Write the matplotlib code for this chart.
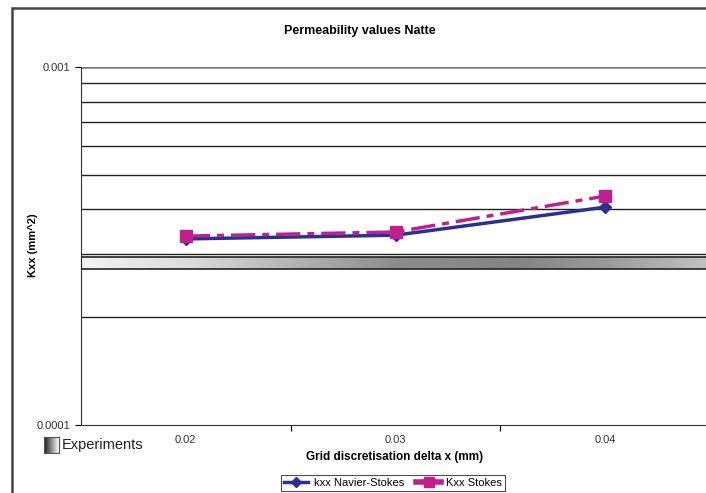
import numpy as np
import matplotlib
matplotlib.use('Agg')
import matplotlib.pyplot as plt
from matplotlib.patches import Rectangle
from matplotlib.lines import Line2D

plt.rcParams['font.family'] = ['Liberation Sans', 'DejaVu Sans']

# data
categories = ['0.02', '0.03', '0.04']
kxx_navier_stokes = [0.000331, 0.000339, 0.000406]
kxx_stokes = [0.000337, 0.000346, 0.000436]
exp_low, exp_high = 0.000273, 0.000295
y_ticks = [0.0001, 0.001]
y_tick_labels = ['0.0001', '0.001']

# gradient of the experiments band (position along x, grey level)
grad_pos = [0.0, 0.17, 0.5, 0.7, 0.83, 1.0]
grad_grey = [0.95, 0.86, 0.55, 0.52, 0.60, 0.76]

navy = '#2B3192'
magenta = '#C0208E'

fig = plt.figure(figsize=(7.06, 4.93), dpi=100)
ax = fig.add_axes([81 / 706, 68 / 493, 629 / 706, 358 / 493])

x = np.arange(len(categories))
ax.set_yscale('log')

# horizontal grid lines at every minor step
for v in np.arange(2, 10) * 1e-4:
    ax.axhline(v, color='#222222', lw=1.0, zorder=1)
ax.axhline(0.001, color='#777777', lw=1.8, zorder=1)

# experiments band
xs = np.linspace(0, 1, 400)
band = np.interp(xs, grad_pos, grad_grey)
ax.imshow(np.tile(band, (2, 1)), cmap='gray', vmin=0, vmax=1, aspect='auto',
          extent=(-0.5, 2.5, exp_low, exp_high), zorder=2, interpolation='bilinear')
ax.add_patch(Rectangle((-0.5, exp_low), 3, exp_high - exp_low, fill=False,
                       ec='#222222', lw=1.2, zorder=3))
ax.set_xlim(-0.5, 2.5)
ax.set_ylim(0.0001, 0.001)

ax.plot(x, kxx_navier_stokes, color=navy, lw=2.5, marker='D', ms=6, zorder=4)
ax.plot(x, kxx_stokes, color=magenta, lw=2.5, dashes=(7, 2, 2, 2), marker='s',
        ms=8, zorder=5)

for s in ['top', 'right']:
    ax.spines[s].set_visible(False)
ax.spines['left'].set_color('#333333')
ax.spines['bottom'].set_color('#333333')

ax.set_yticks(y_ticks, y_tick_labels)
ax.yaxis.set_minor_locator(matplotlib.ticker.NullLocator())
ax.tick_params(axis='y', length=4, width=0.8, labelsize=8, labelcolor='#333333')
ax.set_xticks([0.5, 1.5], ['', ''])
ax.set_xticks(x, categories, minor=True)
ax.tick_params(axis='x', which='major', length=4, width=0.8)
ax.tick_params(axis='x', which='minor', length=0, labelsize=8, pad=7,
               labelcolor='#333333')

fig.text(0.51, 0.938, 'Permeability values Natte', ha='center', va='center',
         fontsize=9, fontweight='bold', family=['Liberation Sans Narrow', 'Liberation Sans'])
fig.text(33 / 706, 1 - 245 / 493, 'Kxx (mm^2)', rotation=90, ha='center', va='center',
         fontsize=8, fontweight='bold', family=['Liberation Sans Narrow', 'Liberation Sans'])
fig.text(395 / 706, 1 - 457 / 493, 'Grid discretisation delta x (mm)', ha='center',
         va='center', fontsize=8.5, fontweight='bold',
         family=['Liberation Sans Narrow', 'Liberation Sans'])

# experiments swatch
sw = fig.add_axes([44 / 706, 1 - 453 / 493, 15 / 706, 16 / 493])
sw.imshow(np.tile(np.linspace(0.1, 1, 50), (2, 1)), cmap='gray', vmin=0, vmax=1,
          aspect='auto')
sw.set_xticks([])
sw.set_yticks([])
for s in sw.spines.values():
    s.set_color('#555555')
    s.set_linewidth(0.8)
fig.text(62 / 706, 1 - 445 / 493, 'Experiments', ha='left', va='center', fontsize=10.5,
         color='#222222')

handles = [Line2D([], [], color=navy, lw=2.5, marker='D', ms=5),
           Line2D([], [], color=magenta, lw=4, marker='s', ms=7)]
leg = fig.legend(handles, ['kxx Navier-Stokes', 'Kxx Stokes'], ncol=2,
                 loc='center', bbox_to_anchor=(393 / 706, 1 - 483 / 493), fontsize=8,
                 frameon=True, fancybox=False, edgecolor='#222222', borderpad=0.25,
                 handlelength=2.2, columnspacing=1.1, handletextpad=0.5)
leg.get_frame().set_linewidth(0.8)

# outer chart frame
fig.add_artist(Rectangle((12 / 706, -0.05), 1.2, 1 - 8 / 493 + 0.05,
                         transform=fig.transFigure, fill=False, ec='#444444', lw=1.8))

fig.savefig('out.png', dpi=100)
